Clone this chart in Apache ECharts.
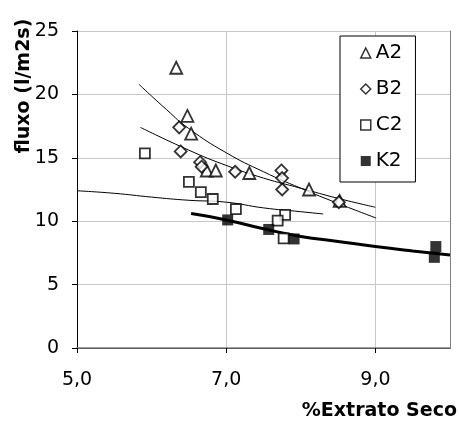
<!DOCTYPE html>
<html>
<head>
<meta charset="utf-8">
<script src="https://cdn.jsdelivr.net/npm/echarts@6/dist/echarts.min.js"></script>
<style>html,body{margin:0;padding:0;background:#fff;}#c{width:459px;height:421px;}</style>
</head>
<body>
<div id="c"></div>
<script>
// ---- data ----
const xTicks = [5, 7, 9];
const yTicks = [0, 5, 10, 15, 20, 25];

const a2X = [6.33, 6.48, 6.53, 6.74, 6.86, 7.31, 8.11, 8.52];
const a2Y = [22.1, 18.3, 16.9, 14.0, 14.0, 13.8, 12.5, 11.6];

const b2X = [6.37, 6.39, 6.65, 6.67, 7.12, 7.74, 7.75, 7.75, 8.51];
const b2Y = [17.4, 15.5, 14.65, 14.3, 13.9, 14.0, 13.4, 12.5, 11.5];

const c2X = [5.91, 6.50, 6.66, 6.82, 7.13, 7.79, 7.69, 7.77];
const c2Y = [15.35, 13.1, 12.3, 11.75, 10.95, 10.5, 10.05, 8.65];

const k2X = [7.02, 7.57, 7.91, 9.81, 9.79];
const k2Y = [10.1, 9.35, 8.6, 8.0, 7.15];

// trend lines
const a2TrendX = [5.83, 6.2, 6.5, 7.0, 7.5, 8.0, 8.5, 9.01];
const a2TrendY = [20.8, 18.8, 17.3, 15.4, 13.9, 12.6, 11.4, 10.25];
const b2TrendX = [5.85, 6.5, 7.0, 7.5, 8.0, 8.5, 9.0];
const b2TrendY = [17.4, 15.6, 14.4, 13.4, 12.6, 11.8, 11.1];
const c2TrendX = [5.0, 5.5, 6.0, 6.5, 7.0, 7.5, 8.0, 8.3];
const c2TrendY = [12.4, 12.2, 11.9, 11.65, 11.5, 11.05, 10.75, 10.57];
const k2TrendX = [6.53, 7.0, 7.5, 8.0, 8.5, 9.0, 9.5, 10.0];
const k2TrendY = [10.6, 10.1, 9.4, 8.8, 8.4, 8.0, 7.65, 7.33];

const seriesNames = ['A2', 'B2', 'C2', 'K2'];
const xTitle = '%Extrato Seco';
const yTitle = 'fluxo (l/m2s)';

function pairs(xs, ys) { return xs.map((x, i) => [x, ys[i]]); }
function fmtX(v) { return v.toFixed(1).replace('.', ','); }

const FONT = 'DejaVu Sans';
const chart = echarts.init(document.getElementById('c'), null, { renderer: 'canvas' });

const hollow = { color: '#ffffff', borderColor: '#000000', borderWidth: 1.8 };

const trend = (name, xs, ys, w) => ({
  name: name, type: 'line', data: pairs(xs, ys), smooth: true, showSymbol: false,
  symbol: 'none', lineStyle: { color: '#000', width: w }, silent: true, z: 2
});

chart.setOption({
  animation: false,
  backgroundColor: '#ffffff',
  textStyle: { fontFamily: FONT },
  grid: { left: 77, right: 9, top: 31, bottom: 73, containLabel: false },
  xAxis: [{
    type: 'value', min: 5, max: 10, interval: 2,
    axisLine: { show: true, onZero: false, lineStyle: { color: '#000', width: 1 } },
    axisTick: { show: true, inside: false, length: 5, lineStyle: { color: '#000' } },
    axisLabel: {
      margin: 23, fontSize: 19, color: '#000', fontFamily: FONT,
      formatter: v => (xTicks.indexOf(v) >= 0 ? fmtX(v) : ''),
      showMaxLabel: false
    },
    splitLine: { show: true, lineStyle: { color: '#c8c8c8', width: 1 } }
  }, {
    type: 'value', min: 5, max: 10, position: 'top',
    axisLine: { show: true, lineStyle: { color: '#808080', width: 1.5 } },
    axisTick: { show: false }, axisLabel: { show: false }, splitLine: { show: false }
  }],
  yAxis: [{
    type: 'value', min: 0, max: 25, interval: 5,
    axisLine: { show: true, onZero: false, lineStyle: { color: '#000', width: 1 } },
    axisTick: { show: true, inside: false, length: 5, lineStyle: { color: '#000' } },
    axisLabel: { margin: 18, fontSize: 19, color: '#000', fontFamily: FONT },
    splitLine: { show: true, lineStyle: { color: '#c8c8c8', width: 1 } }
  }, {
    type: 'value', min: 0, max: 25, position: 'right',
    axisLine: { show: true, lineStyle: { color: '#808080', width: 1 } },
    axisTick: { show: false }, axisLabel: { show: false }, splitLine: { show: false }
  }],
  legend: {
    orient: 'vertical', left: 340, top: 36,
    padding: [7, 13, 11, 20], itemGap: 16,
    itemWidth: 10, itemHeight: 10,
    backgroundColor: '#fff', borderColor: '#000', borderWidth: 1, borderRadius: 0,
    textStyle: { fontSize: 20, color: '#000', fontFamily: FONT, lineHeight: 20 },
    data: [
      { name: seriesNames[0], icon: 'triangle', itemStyle: { color: '#fff', borderColor: '#000', borderWidth: 1.5 } },
      { name: seriesNames[1], icon: 'diamond', itemStyle: { color: '#fff', borderColor: '#000', borderWidth: 1.5 } },
      { name: seriesNames[2], icon: 'rect', itemStyle: { color: '#fff', borderColor: '#000', borderWidth: 1.5 } },
      { name: seriesNames[3], icon: 'rect', itemStyle: { color: '#000', borderColor: '#000', borderWidth: 0 } }
    ]
  },
  graphic: [
    { type: 'text', x: 457, y: 411, style: { text: xTitle, fontFamily: FONT, fontWeight: 'bold', fontSize: 19, fill: '#000', textAlign: 'right', textVerticalAlign: 'middle' } },
    { type: 'text', x: 24, y: 86, rotation: Math.PI / 2, style: { text: yTitle, fontFamily: FONT, fontWeight: 'bold', fontSize: 19, fill: '#000', textAlign: 'center', textVerticalAlign: 'middle' } }
  ],
  series: [
    trend('A2 tendência', a2TrendX, a2TrendY, 1),
    trend('B2 tendência', b2TrendX, b2TrendY, 1),
    trend('C2 tendência', c2TrendX, c2TrendY, 1),
    trend('K2 tendência', k2TrendX, k2TrendY, 3),
    { name: seriesNames[0], type: 'scatter', symbol: 'triangle', symbolSize: 12, data: pairs(a2X, a2Y), itemStyle: hollow, z: 3 },
    { name: seriesNames[1], type: 'scatter', symbol: 'diamond', symbolSize: 12, data: pairs(b2X, b2Y), itemStyle: hollow, z: 3 },
    { name: seriesNames[2], type: 'scatter', symbol: 'rect', symbolSize: 10, data: pairs(c2X, c2Y), itemStyle: hollow, z: 3 },
    { name: seriesNames[3], type: 'scatter', symbol: 'rect', symbolSize: 11, data: pairs(k2X, k2Y), itemStyle: { color: '#000' }, z: 3 }
  ]
});
</script>
</body>
</html>
